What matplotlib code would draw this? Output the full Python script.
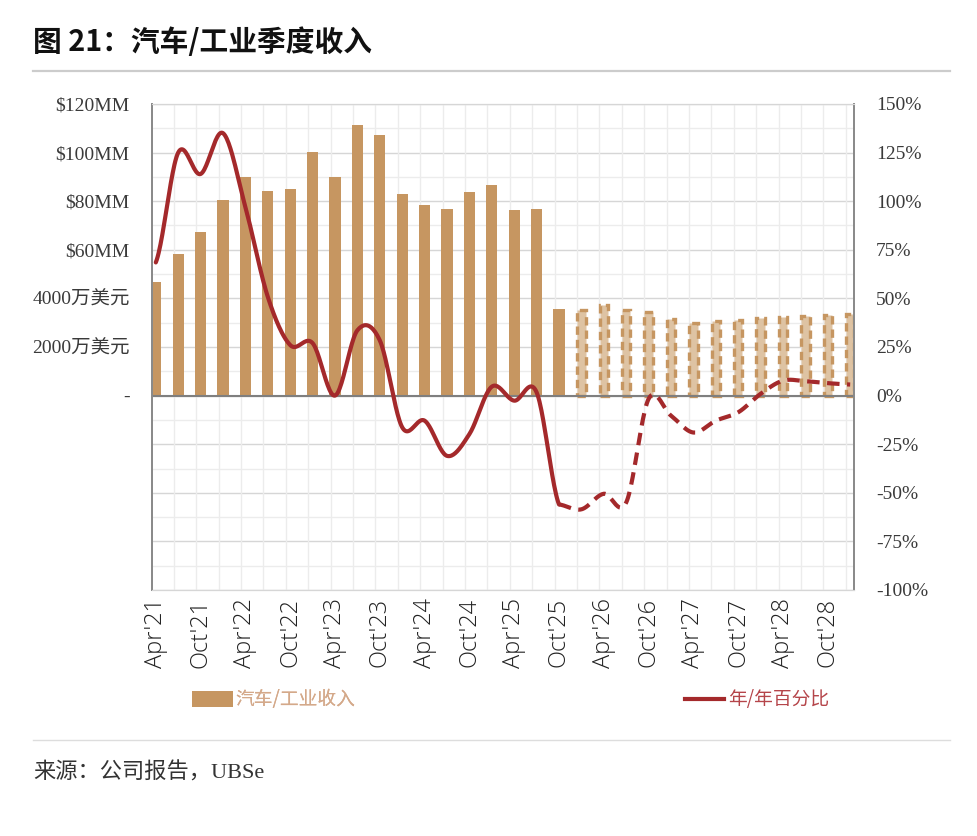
import numpy as np
import matplotlib
matplotlib.use("Agg")
import matplotlib.pyplot as plt
from matplotlib.patches import Patch
from matplotlib.lines import Line2D

# quarterly categories Apr'21 .. Jan'29 (labels every 2nd quarter)
quarters = ["Apr'21", "Jul'21", "Oct'21", "Jan'22", "Apr'22", "Jul'22", "Oct'22", "Jan'23",
            "Apr'23", "Jul'23", "Oct'23", "Jan'24", "Apr'24", "Jul'24", "Oct'24", "Jan'25",
            "Apr'25", "Jul'25", "Oct'25", "Jan'26", "Apr'26", "Jul'26", "Oct'26", "Jan'27",
            "Apr'27", "Jul'27", "Oct'27", "Jan'28", "Apr'28", "Jul'28", "Oct'28", "Jan'29"]

# auto/industrial revenue, $MM (first 19 actual, rest forecast)
revenue = [46.7, 58.3, 67.4, 80.3, 90.1, 84.3, 85.0, 100.3, 90.1, 111.2, 107.4, 83.1,
           78.5, 76.9, 83.8, 86.6, 76.4, 76.9, 35.7, 35.1, 37.2, 35.4, 34.2, 31.4,
           29.9, 30.6, 31.3, 32.1, 32.4, 32.8, 33.3, 33.5]
n_actual = 19

# year-over-year growth, %
yoy = [68.5, 125.0, 114.0, 135.0, 97.0, 50.8, 26.0, 27.0, 0.0, 33.6, 28.4, -16.3,
       -12.9, -31.0, -19.8, 4.6, -2.6, 1.7, -56.0, -58.5, -50.5, -55.0, -1.7, -10.3,
       -19.0, -12.9, -8.6, 0.9, 7.7, 7.4, 6.4, 5.7]

left_ticks = [0, 20, 40, 60, 80, 100, 120]
left_labels = ["-", "2000万美元", "4000万美元", "$60MM", "$80MM", "$100MM", "$120MM"]
right_ticks = [-100, -75, -50, -25, 0, 25, 50, 75, 100, 125, 150]
right_labels = ["-100%", "-75%", "-50%", "-25%", "0%", "25%", "50%", "75%", "100%", "125%", "150%"]

bar_color = "#C69661"
bar_light = "#DEC3A3"
line_color = "#A4292B"
serif = ["Liberation Serif", "Noto Sans CJK SC"]


def smooth(xs, ys, n=24):
    # catmull-rom curve through the points (like excel's smoothed line)
    p = np.array(ys, dtype=float)
    p = np.concatenate([[p[0]], p, [p[-1]]])
    out_x, out_y = [], []
    for i in range(len(ys) - 1):
        p0, p1, p2, p3 = p[i], p[i + 1], p[i + 2], p[i + 3]
        t = np.linspace(0, 1, n, endpoint=(i == len(ys) - 2))
        y = 0.5 * ((2 * p1) + (-p0 + p2) * t + (2 * p0 - 5 * p1 + 4 * p2 - p3) * t ** 2
                   + (-p0 + 3 * p1 - 3 * p2 + p3) * t ** 3)
        out_x.extend(xs[i] + t * (xs[i + 1] - xs[i]))
        out_y.extend(y)
    return np.array(out_x), np.array(out_y)


x = np.arange(len(quarters))

fig = plt.figure(figsize=(9.78, 8.36), dpi=100)
ax = fig.add_axes([152 / 978, 1 - 590 / 836, 702 / 978, 486 / 836])
ax2 = ax.twinx()

ax.set_xlim(-0.17, len(quarters) - 0.83)
ax.set_ylim(-80, 120)
ax2.set_ylim(-100, 150)

# grid
for v in np.arange(-80, 121, 10):
    ax.axhline(v, color="#d6d6d6" if v % 20 == 0 else "#ececec", lw=1.0, zorder=0)
for xi in x:
    ax.axvline(xi - 0.2, color="#ececec", lw=1.0, zorder=0)
ax.axhline(0, color="#7f7f7f", lw=1.5, zorder=3)

# bars
ax.bar(x[:n_actual], revenue[:n_actual], width=0.5, color=bar_color, zorder=2)
ax.bar(x[n_actual:], revenue[n_actual:], width=0.38, facecolor=bar_light,
       edgecolor=bar_color, linewidth=2.4, linestyle=(0, (2.5, 1.5)), zorder=2)

# yoy line
sx, sy = smooth(x[:n_actual], yoy[:n_actual])
ax2.plot(sx, sy, color=line_color, lw=3, solid_capstyle="round", zorder=4)
sx, sy = smooth(x[n_actual - 1:], yoy[n_actual - 1:])
ax2.plot(sx, sy, color=line_color, lw=3, linestyle=(0, (3, 1.8)), zorder=4)

# axes styling
ax.set_yticks(left_ticks)
ax.set_yticklabels(left_labels, family=serif, fontsize=14, color="#3a3a3a")
ax2.set_yticks(right_ticks)
ax2.set_yticklabels(right_labels, family=serif, fontsize=14, color="#3a3a3a")
ax.set_xticks(x[::2])
ax.set_xticklabels(quarters[::2], rotation=90, fontsize=17, family="Open Sans",
                   fontweight="light", color="#222222")
ax.tick_params(axis="y", length=0, pad=16)
ax2.tick_params(axis="y", length=0, pad=16)
ax.tick_params(axis="x", length=0, pad=6)
for a in (ax, ax2):
    a.spines["left"].set_color("#8a8a8a")
    a.spines["right"].set_color("#8a8a8a")
    a.spines["top"].set_color("#d6d6d6")
    a.spines["bottom"].set_color("#d6d6d6")
    a.spines["left"].set_linewidth(1.3)
    a.spines["right"].set_linewidth(1.3)
ax2.set_zorder(ax.get_zorder() + 1)
ax2.patch.set_visible(False)

# legends
leg1 = fig.legend(handles=[Patch(facecolor=bar_color, edgecolor="none")], labels=["汽车/工业收入"],
                  loc="center left", bbox_to_anchor=(192 / 978, 1 - 700 / 836), frameon=False,
                  prop={"family": ["Noto Sans CJK SC"], "size": 13.5, "weight": "light"},
                  labelcolor="#D4A98A", handlelength=2.2, handleheight=1.0, handletextpad=0.1,
                  borderpad=0, borderaxespad=0)
leg2 = fig.legend(handles=[Line2D([], [], color=line_color, lw=3)], labels=["年/年百分比"],
                  loc="center left", bbox_to_anchor=(685 / 978, 1 - 700 / 836), frameon=False,
                  prop={"family": ["Noto Sans CJK SC"], "size": 13.5, "weight": "light"},
                  labelcolor="#B5454A", handlelength=2.1, handletextpad=0.2,
                  borderpad=0, borderaxespad=0)
fig.add_artist(leg1)

# title, rules, source
fig.text(33 / 978, 1 - 42 / 836, "图 21：汽车/工业季度收入", family=["Noto Sans CJK SC"],
         fontsize=20.7, fontweight="bold", va="center", ha="left", color="#111111")
fig.add_artist(Line2D([33 / 978, 950 / 978], [1 - 71 / 836, 1 - 71 / 836],
                      color="#cccccc", lw=1.6, transform=fig.transFigure))
fig.add_artist(Line2D([33 / 978, 950 / 978], [1 - 740 / 836, 1 - 740 / 836],
                      color="#dddddd", lw=1.0, transform=fig.transFigure))
fig.text(33 / 978, 1 - 773 / 836, "来源：公司报告，UBSe", family=serif,
         fontsize=16, va="center", ha="left", color="#333333")

fig.savefig("out.png", dpi=100)
